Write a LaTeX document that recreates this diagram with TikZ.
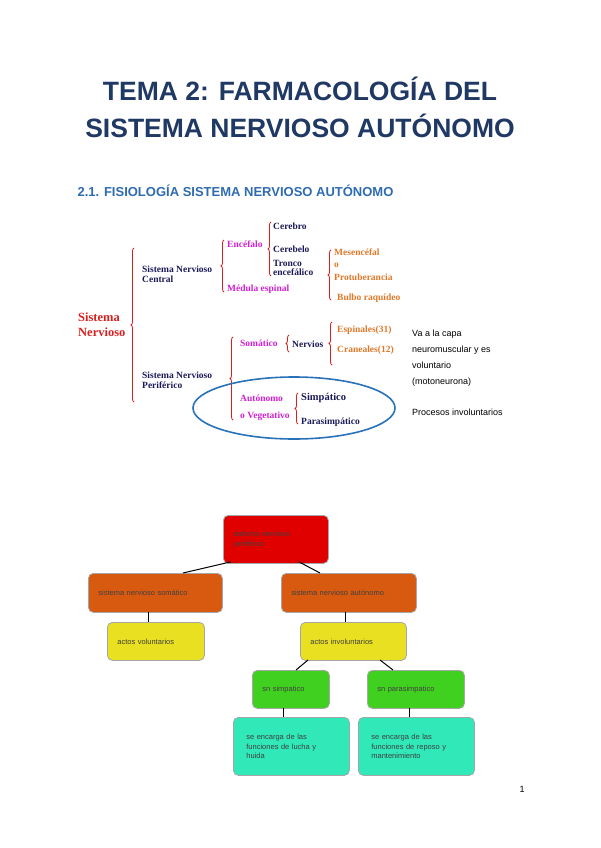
\documentclass[tikz,border=0pt]{standalone}
\usepackage{fontspec}
\setmainfont{Liberation Sans}
\newfontfamily\ser{Liberation Serif}
\usetikzlibrary{decorations.pathreplacing}
\definecolor{tblue}{HTML}{1F3864}
\definecolor{sblue}{HTML}{2E6BB0}
\definecolor{navy}{HTML}{1A1A5A}
\definecolor{mag}{HTML}{D020D0}
\definecolor{org}{HTML}{E07828}
\definecolor{bred}{HTML}{D82020}
\definecolor{ell}{HTML}{2A72B8}
\definecolor{cred}{HTML}{E00000}
\definecolor{cora}{HTML}{D85A10}
\definecolor{cyel}{HTML}{E8E020}
\definecolor{cgrn}{HTML}{40D020}
\definecolor{ccya}{HTML}{30E8B8}
\begin{document}
\begin{tikzpicture}[x=1pt,y=-1pt,
  t/.style={anchor=west,inner sep=0,font=\ser\bfseries\fontsize{9.5}{10.5}\selectfont},
  nv/.style={t,text=navy}, mg/.style={t,text=mag}, og/.style={t,text=org},
  br/.style={draw=bred,thick,decorate,decoration={brace,mirror,amplitude=3pt}},
  bx/.style={draw=black!35,rounded corners=5pt,line width=0.8pt,anchor=north west,inner xsep=10pt,inner ysep=7pt,align=left,font=\fontsize{7.5}{9.5}\selectfont,text=black!75},
  ln/.style={draw=black,line width=1pt}]
\useasboundingbox (0,0) rectangle (600,848);
\node[font=\bfseries\fontsize{26.5}{37}\selectfont,text=tblue,align=center] (title) at (300,107) {TEMA 2: FARMACOLOGÍA DEL\\SISTEMA NERVIOSO AUTÓNOMO};
\node[anchor=west,font=\bfseries\fontsize{13}{15}\selectfont,text=sblue] (sec) at (74,191) {2.1. FISIOLOGÍA SISTEMA NERVIOSO AUTÓNOMO};
% top scheme
\node[t,text=bred,font=\ser\bfseries\fontsize{12.5}{15}\selectfont,align=left] (sn) at (78,325) {Sistema\\Nervioso};
\draw[br] (134,248) -- (134,402);
\node[nv,align=left] (snc) at (142,274) {Sistema Nervioso\\Central};
\draw[br] (224,240) -- (224,292);
\node[mg] (enc) at (227,244) {Encéfalo};
\node[mg] (med) at (227,289) {Médula espinal};
\draw[br] (271,222) -- (271,276);
\node[nv] (cer) at (273,226) {Cerebro};
\node[nv] (cbl) at (273,249) {Cerebelo};
\node[nv,align=left,font=\ser\bfseries\fontsize{9.5}{9}\selectfont] (tro) at (273,268) {Tronco\\encefálico};
\draw[br] (331,250) -- (331,300);
\node[og] (mes) at (334,252) {Mesencéfal};
\node[og] (o1) at (334,265) {o};
\node[og] (pro) at (334,277) {Protuberancia};
\node[og] (bul) at (337,298) {Bulbo raquídeo};
\fill[white] (406,290) rectangle (440,306);
\draw[br] (233,337) -- (233,420);
\node[mg] (som) at (240,343) {Somático};
\draw[br] (289,335) -- (289,352);
\node[nv] (ner) at (292,344) {Nervios};
\draw[br] (332,322) -- (332,365);
\node[og] (esp) at (337,330) {Espinales(31)};
\node[og] (cra) at (337,350) {Craneales(12)};
\node[nv,align=left] (snp) at (142,380) {Sistema Nervioso\\Periférico};
\draw[ell,line width=1.6pt] (294,408) ellipse (101 and 31);
\node[mg] (aut) at (240,398) {Autónomo};
\node[mg] (veg) at (240,416) {o Vegetativo};
\draw[br] (298,393) -- (298,424);
\node[nv,font=\ser\bfseries\fontsize{10.5}{11}\selectfont] (sim) at (301,398) {Simpático};
\node[nv] (par) at (301,422) {Parasimpático};
\node[anchor=north west,align=left,font=\fontsize{9}{16}\selectfont,inner sep=0] (va) at (412,330) {Va a la capa\\neuromuscular y es\\voluntario\\(motoneurona)};
\node[anchor=west,font=\fontsize{9}{11}\selectfont,inner sep=0] (proc) at (412,412) {Procesos involuntarios};
% bottom diagram
\node[bx,fill=cred,minimum width=105pt,minimum height=48pt,text width=85pt] (r) at (223,515) {sistema nervioso\\periférico};
\node[bx,fill=cora,minimum width=134pt,minimum height=39pt,text width=114pt] (ol) at (88,573) {sistema nervioso somático};
\node[bx,fill=cora,minimum width=135pt,minimum height=39pt,text width=115pt] (or) at (281,573) {sistema nervioso autónomo};
\node[bx,fill=cyel,minimum width=97pt,minimum height=38pt,text width=77pt] (yl) at (107,622) {actos voluntarios};
\node[bx,fill=cyel,minimum width=106pt,minimum height=38pt,text width=86pt] (yr) at (300,622) {actos involuntarios};
\node[bx,fill=cgrn,minimum width=77pt,minimum height=38pt,text width=57pt] (gl) at (252,670) {sn simpatico};
\node[bx,fill=cgrn,minimum width=97pt,minimum height=38pt,text width=77pt] (gr) at (367,670) {sn parasimpatico};
\node[bx,fill=ccya,minimum width=116pt,minimum height=58pt,text width=90pt] (cl) at (233,717) {se encarga de las\\funciones de lucha y\\huida};
\node[bx,fill=ccya,minimum width=116pt,minimum height=58pt,text width=90pt] (cr) at (358,717) {se encarga de las\\funciones de reposo y\\mantenimiento};
\draw[ln] (r.south west)++(8,-2) -- (183,573);
\draw[ln] (r.south east)++(-30,-2) -- (320,573);
\draw[ln] (148,612) -- (148,622);
\draw[ln] (345,612) -- (345,622);
\draw[ln] (308,660) -- (296,670);
\draw[ln] (380,660) -- (393,670);
\draw[ln] (283,708) -- (283,717);
\draw[ln] (409,708) -- (409,717);
\node[font=\fontsize{9}{11}\selectfont] (pg) at (522,789) {1};
\end{tikzpicture}
\end{document}
